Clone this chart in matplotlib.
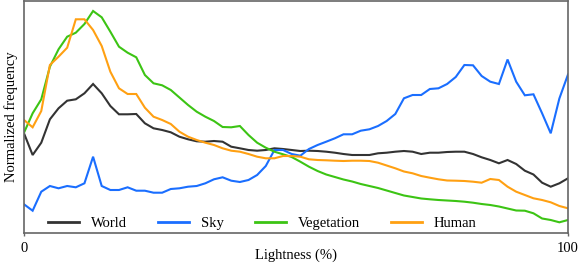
import numpy as np
import matplotlib
matplotlib.use("Agg")
import matplotlib.pyplot as plt

plt.rcParams['font.family'] = ['Liberation Serif', 'DejaVu Serif']

# Lightness bins (%)
lightness = np.linspace(0, 100, 64)

# Normalized frequency (arbitrary units)
world = [99.7, 78, 90.3, 113.7, 124.7, 132.3, 133.7, 139.7, 149, 139.7, 127, 118.7, 118.7, 119, 109.7, 104.7,
         103, 100.7, 96.3, 93.7, 91.7, 91.3, 92, 91.3, 86.3, 84.7, 83, 82.3, 83, 84.7, 84, 83,
         82, 82.3, 82, 81.3, 80.3, 79, 78, 78, 78, 79.7, 80.3, 81.3, 82, 81.3, 79, 80.3,
         80.3, 81, 81.3, 81.3, 79, 75.7, 73, 69.7, 73, 69, 62.3, 58.5, 50.3, 46.3, 49.7, 54.7]
sky = [28.7, 22.3, 41.3, 47, 44.7, 47, 45.7, 49.7, 76.3, 47, 43, 43, 45.7, 42.3, 42.3, 40.3,
       40.3, 44, 44.7, 46.3, 47, 49.7, 53.7, 55.7, 52.3, 51, 53, 58, 67, 83, 83, 79,
       77.3, 84, 88, 91.3, 94.7, 98.7, 98.7, 102.3, 103.7, 107, 112, 119, 134.7, 138, 138, 144,
       144.7, 149, 156, 168, 167.7, 157, 151.3, 149, 173.5, 151.3, 137.7, 138.7, 119.7, 99.7, 134.5, 158.5]
vegetation = [100.3, 119.7, 133.7, 166.3, 183.7, 196.3, 200.3, 209, 222, 215.7, 201.3, 186.3, 180.3, 175.7, 158, 149.7,
              147.7, 143, 135.5, 128, 121.3, 116.3, 112, 106, 105.7, 107, 98, 90.3, 85.3, 81.3, 78.7, 76,
              71.3, 66.3, 62, 58.5, 56, 53.5, 51.5, 49, 47, 45, 42.5, 40, 37.5, 36, 34.5, 33.7,
              33, 32.5, 32, 31.3, 30.3, 29, 28, 26.5, 24.5, 22.5, 22.3, 19.7, 14.5, 13, 10.7, 13]
human = [113, 105.7, 122, 168, 176.3, 185.3, 213.7, 213.7, 203, 187, 161.3, 144.7, 139, 139, 125.3, 116.3,
         113, 109, 101.3, 96.3, 93, 90.3, 88, 84.7, 82.3, 81.3, 79, 76.3, 74.7, 74.7, 77, 77,
         76.3, 73.7, 73, 72.7, 72.3, 72, 72.3, 72.3, 72, 70.3, 67.5, 64.7, 61.5, 59.7, 57, 55.3,
         53.7, 52.5, 52.3, 52, 51.3, 50.3, 54, 53, 46.3, 41.3, 38, 34.7, 33, 30.7, 27, 24.7]

series = [("World", world, "#333333"),
          ("Sky", sky, "#1a6eff"),
          ("Vegetation", vegetation, "#3cc414"),
          ("Human", human, "#ffa012")]

fig = plt.figure(figsize=(5.79, 2.64), dpi=100)
ax = fig.add_axes([24 / 579, 31 / 264, 544 / 579, 232 / 264])

for name, vals, col in series:
    ax.plot(lightness, vals, color=col, lw=1.5, label=name, solid_joinstyle='miter')

ax.set_xlim(0, 100)
ax.set_ylim(0, 232)
ax.set_xticks([0, 100])
ax.set_xticklabels(["0", "100"])
ax.set_yticks([])
ax.tick_params(axis='x', length=2.5, width=1, color="#666666", labelsize=10.5, pad=4)
for s in ax.spines.values():
    s.set_color("#666666")
    s.set_linewidth(1.2)

ax.set_xlabel("Lightness (%)", fontsize=10.5)
ax.xaxis.set_label_coords(0.5, -0.066)
ax.set_ylabel("Normalized frequency", fontsize=10.5, labelpad=4)

leg = ax.legend(loc='center left', bbox_to_anchor=(0.044, 0.041), ncol=4, frameon=False,
                fontsize=10.5, handlelength=2.15, handletextpad=0.82, columnspacing=2.1,
                borderpad=0, borderaxespad=0)
for line in leg.get_lines():
    line.set_linewidth(2)

fig.savefig("out.png", dpi=100)
